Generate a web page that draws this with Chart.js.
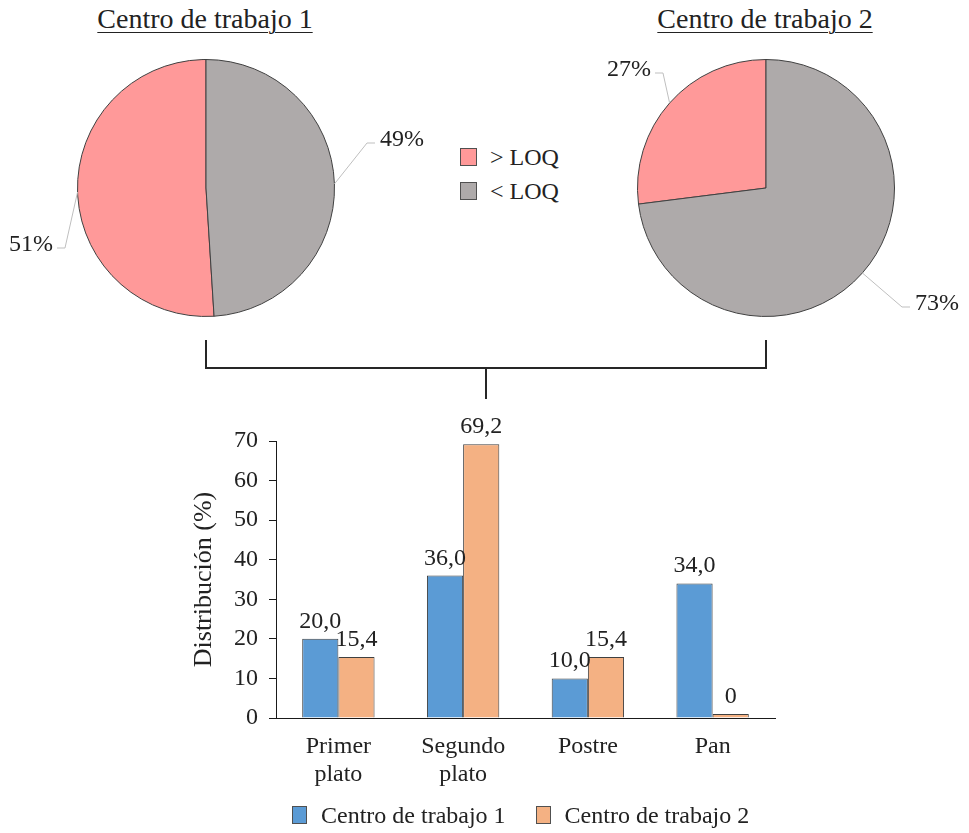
<!DOCTYPE html>
<html>
<head>
<meta charset="utf-8">
<script src="https://cdn.jsdelivr.net/npm/chart.js@4.4.1/dist/chart.umd.min.js"></script>
<style>
  html, body { margin: 0; padding: 0; background: #fff; overflow: hidden; }
  #wrap { position: relative; width: 969px; height: 833px; font-family: "Liberation Serif", "Times New Roman", serif; color: #222; }
  .abs { position: absolute; }
  .title { font-size: 28px; line-height: 28px; top: 5px; white-space: nowrap; transform: translateX(-50%); text-decoration: underline; text-decoration-thickness: 1px; text-underline-offset: 4px; }
  .leg-row { display: flex; align-items: center; height: 34px; font-size: 24px; white-space: nowrap; }
  .swatch { display: inline-block; box-sizing: border-box; border: 1px solid #505050; }
</style>
</head>
<body>
<div id="wrap">
  <div class="abs title" style="left:205px">Centro de trabajo 1</div>
  <div class="abs title" style="left:765px">Centro de trabajo 2</div>
  <canvas id="pie1" class="abs" width="440" height="296" style="left:0;top:40px"></canvas>
  <canvas id="pie2" class="abs" width="379" height="296" style="left:590px;top:40px"></canvas>
  <div id="pieLegend" class="abs" style="left:460px;top:140px"></div>
  <svg class="abs" width="969" height="420" style="left:0;top:0" id="bracket">
    <path d="M206 340 V368 H766 V340 M486 368 V399" fill="none" stroke="#262626" stroke-width="2"/>
  </svg>
  <canvas id="bars" class="abs" width="660" height="390" style="left:150px;top:410px"></canvas>
  <div id="barLegend" class="abs" style="left:292px;top:798px"></div>
</div>
<script>
// ---- data ----
const pieTitles = ["Centro de trabajo 1", "Centro de trabajo 2"];
const pieCategories = ["> LOQ", "< LOQ"];
const pieAboveLoq = [51, 27];   // % > LOQ per centre
const pieBelowLoq = [49, 73];   // % < LOQ per centre
const pieColors = ["#FF9999", "#AEAAAA"];

const barCategories = [["Primer", "plato"], ["Segundo", "plato"], ["Postre"], ["Pan"]];
const seriesNames = ["Centro de trabajo 1", "Centro de trabajo 2"];
const centro1 = [20.0, 36.0, 10.0, 34.0];
const centro2 = [15.4, 69.2, 15.4, 0];
const seriesColors = ["#5B9BD5", "#F4B183"];
const yMax = 70, yStep = 10;

const serif = '"Liberation Serif", "Times New Roman", serif';

// label spots (text centre, relative to pie centre) per pie/slice
const pieLabelSpots = [
  [{ dx: -175, dy: 57 }, { dx: 196, dy: -48 }],
  [{ dx: -137, dy: -118 }, { dx: 171, dy: 116 }]
];

const pieLabelPlugin = {
  id: "pieLabels",
  afterDatasetsDraw(chart, args, opts) {
    const ctx = chart.ctx;
    const ds = chart.data.datasets[0];
    ctx.save();
    ctx.font = "24px " + serif;
    ctx.textAlign = "center";
    ctx.textBaseline = "middle";
    chart.getDatasetMeta(0).data.forEach((arc, i) => {
      const spot = opts.spots[i];
      const mid = (arc.startAngle + arc.endAngle) / 2;
      const ax = arc.x + Math.cos(mid) * arc.outerRadius;
      const ay = arc.y + Math.sin(mid) * arc.outerRadius;
      const tx = arc.x + spot.dx, ty = arc.y + spot.dy;
      const txt = ds.data[i] + "%";
      const w = ctx.measureText(txt).width;
      const right = spot.dx > 0;
      const endX = right ? tx - w / 2 - 5 : tx + w / 2 + 4;
      const elbowX = right ? endX - 8 : endX + 8;
      const ly = ty + 3;
      ctx.strokeStyle = "#bfbfbf";
      ctx.lineWidth = 1;
      ctx.beginPath();
      ctx.moveTo(ax, ay);
      ctx.lineTo(elbowX, ly);
      ctx.lineTo(endX, ly);
      ctx.stroke();
      ctx.fillStyle = "#222";
      ctx.fillText(txt, tx, ty);
    });
    ctx.restore();
  }
};

function makePie(id, k, padding) {
  return new Chart(document.getElementById(id), {
    type: "pie",
    data: {
      labels: pieCategories,
      datasets: [{
        data: [pieAboveLoq[k], pieBelowLoq[k]],
        backgroundColor: pieColors,
        borderColor: "#404040",
        borderWidth: 1
      }]
    },
    options: {
      responsive: false,
      animation: false,
      rotation: pieBelowLoq[k] / 100 * 360,
      layout: { padding: padding },
      plugins: {
        legend: { display: false },
        tooltip: { enabled: false },
        pieLabels: { spots: pieLabelSpots[k] }
      }
    },
    plugins: [pieLabelPlugin]
  });
}

makePie("pie1", 0, { left: 19, right: 47, top: 19, bottom: 19 });
makePie("pie2", 1, { left: 47, right: 74, top: 19, bottom: 19 });

// middle legend for the pies
const pl = document.getElementById("pieLegend");
pieCategories.forEach((c, i) => {
  pl.innerHTML += '<div class="leg-row"><span class="swatch" style="width:17px;height:18px;background:' +
    pieColors[i] + ';margin-right:13px"></span>' + c.replace("<", "&lt;").replace(">", "&gt;") + '</div>';
});

// ---- bar chart ----
const barLabelPlugin = {
  id: "barLabels",
  afterDatasetsDraw(chart) {
    const ctx = chart.ctx;
    ctx.save();
    ctx.font = "24px " + serif;
    ctx.fillStyle = "#222";
    ctx.textAlign = "center";
    ctx.textBaseline = "alphabetic";
    chart.data.datasets.forEach((ds, di) => {
      chart.getDatasetMeta(di).data.forEach((bar, i) => {
        const v = ds.data[i];
        const txt = v === 0 ? "0" : v.toFixed(1).replace(".", ",");
        ctx.fillText(txt, bar.x, bar.y - 11);
      });
    });
    ctx.restore();
  }
};

new Chart(document.getElementById("bars"), {
  type: "bar",
  data: {
    labels: barCategories,
    datasets: [
      { label: seriesNames[0], data: centro1, backgroundColor: seriesColors[0], borderColor: "#404040", borderWidth: 1 },
      { label: seriesNames[1], data: centro2, backgroundColor: seriesColors[1], borderColor: "#404040", borderWidth: 1, minBarLength: 4 }
    ]
  },
  options: {
    responsive: false,
    animation: false,
    categoryPercentage: 0.58,
    barPercentage: 1.0,
    layout: { padding: { left: 0, right: 35, top: 31, bottom: 0 } },
    plugins: { legend: { display: false }, tooltip: { enabled: false } },
    scales: {
      x: {
        grid: { display: false, drawTicks: false },
        border: { display: true, color: "#1a1a1a", width: 1 },
        ticks: { color: "#222", padding: 14, maxRotation: 0, font: { family: serif, size: 24, lineHeight: 1.2 } },
        afterFit(s) { s.height = 82; }
      },
      y: {
        min: 0, max: yMax,
        grid: { display: true, drawOnChartArea: false, drawTicks: true, tickLength: 7, color: "#1a1a1a" },
        border: { display: true, color: "#1a1a1a", width: 1 },
        ticks: { stepSize: yStep, color: "#222", padding: 11, font: { family: serif, size: 24 } },
        title: { display: true, text: "Distribución (%)", color: "#222", padding: { top: 39, bottom: 0 }, font: { family: serif, size: 26 } },
        afterFit(s) { s.width = 126; }
      }
    }
  },
  plugins: [barLabelPlugin]
});

// bottom legend for the bars
const bl = document.getElementById("barLegend");
bl.style.display = "flex";
bl.style.alignItems = "center";
bl.style.height = "34px";
bl.style.fontSize = "24px";
bl.style.whiteSpace = "nowrap";
seriesNames.forEach((name, i) => {
  bl.innerHTML += '<span class="swatch" style="width:15px;height:18px;background:' + seriesColors[i] +
    ';margin-right:14px;margin-left:' + (i ? 30 : 0) + 'px"></span><span>' + name + '</span>';
});
</script>
</body>
</html>
